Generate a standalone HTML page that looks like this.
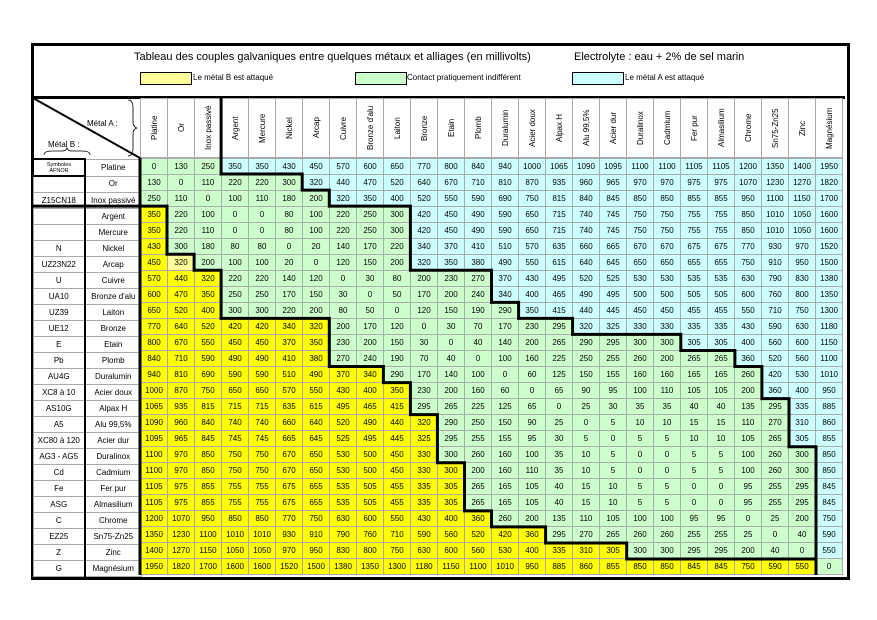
<!DOCTYPE html>
<html><head><meta charset="utf-8">
<style>
body{margin:0;background:#fff;width:877px;height:620px;position:relative;overflow:hidden;font-family:"Liberation Sans",Arial,sans-serif;color:#000}
.frame{position:absolute;left:31px;top:43px;width:813px;height:531px;border:3px solid #000}
.hsep{position:absolute;left:32px;top:96px;width:813px;height:3px;background:#000}
.t{position:absolute;font-size:11px;white-space:nowrap}
.lg{position:absolute;font-size:8px;white-space:nowrap}
.box{position:absolute;width:50px;height:11px;border:1px solid #000}
table{border-collapse:collapse;table-layout:fixed;position:absolute}
#data{left:140px;top:158px;width:703px;height:417px}
#data td{border:1px solid #aaa;background:#ccffcc;font-size:8px;text-align:center;padding:0;height:15px;line-height:14px;overflow:hidden}
#hdr{left:140px;top:98px;width:703px;height:60px}
#hdr td{border:1px solid #aaa;padding:0;height:58px;background:#fff}
#hdr td div{writing-mode:vertical-rl;transform:rotate(180deg);font-size:8px;margin:auto;white-space:nowrap;height:58px;text-align:center}
#lab{left:32px;top:158px;width:108px;height:417px}
#lab td{border:1px solid #aaa;font-size:8px;text-align:center;padding:0;height:15px;line-height:14px;background:#fff;white-space:nowrap;overflow:hidden}
#lab td:first-child{border-right:2px solid #000}
#data .r0 td:nth-child(n+4),#data .r1 td:nth-child(n+7),#data .r2 td:nth-child(n+8),#data .r3 td:nth-child(n+11),#data .r4 td:nth-child(n+11),#data .r5 td:nth-child(n+11),#data .r6 td:nth-child(n+11),#data .r7 td:nth-child(n+14),#data .r8 td:nth-child(n+14),#data .r9 td:nth-child(n+15),#data .r10 td:nth-child(n+17),#data .r11 td:nth-child(n+21),#data .r12 td:nth-child(n+23),#data .r13 td:nth-child(n+24),#data .r14 td:nth-child(n+24),#data .r15 td:nth-child(n+25),#data .r16 td:nth-child(n+25),#data .r17 td:nth-child(n+25),#data .r18 td:nth-child(n+26),#data .r19 td:nth-child(n+26),#data .r20 td:nth-child(n+26),#data .r21 td:nth-child(n+26),#data .r22 td:nth-child(n+26),#data .r23 td:nth-child(n+26),#data .r24 td:nth-child(n+26){background:#ccffff}
#data .r3 td:nth-child(-n+1),#data .r4 td:nth-child(-n+1),#data .r5 td:nth-child(-n+1),#data .r6 td:nth-child(-n+2),#data .r7 td:nth-child(-n+3),#data .r8 td:nth-child(-n+3),#data .r9 td:nth-child(-n+3),#data .r10 td:nth-child(-n+7),#data .r11 td:nth-child(-n+7),#data .r12 td:nth-child(-n+7),#data .r13 td:nth-child(-n+9),#data .r14 td:nth-child(-n+10),#data .r15 td:nth-child(-n+10),#data .r16 td:nth-child(-n+11),#data .r17 td:nth-child(-n+11),#data .r18 td:nth-child(-n+11),#data .r19 td:nth-child(-n+12),#data .r20 td:nth-child(-n+12),#data .r21 td:nth-child(-n+12),#data .r22 td:nth-child(-n+13),#data .r23 td:nth-child(-n+15),#data .r24 td:nth-child(-n+18),#data .r25 td:nth-child(-n+25){background:#ffff00}
#data .r6 td:nth-child(2){background:#ffff99}
</style></head><body>
<div class="frame"></div>
<div class="hsep"></div>
<div class="t" style="left:134px;top:51px">Tableau des couples galvaniques entre quelques métaux et alliages (en millivolts)</div>
<div class="t" style="left:574px;top:51px">Electrolyte : eau + 2% de sel marin</div>
<div class="box" style="left:140px;top:72px;background:#ffff99"></div>
<div class="lg" style="left:193px;top:73px">Le métal B est attaqué</div>
<div class="box" style="left:355px;top:72px;background:#ccffcc"></div>
<div class="lg" style="left:407px;top:73px">Contact pratiquement indifférent</div>
<div class="box" style="left:572px;top:72px;background:#ccffff"></div>
<div class="lg" style="left:625px;top:73px">Le métal A est attaqué</div>

<div class="lg" style="left:87px;top:119px;font-size:8px">Métal A :</div>
<div class="lg" style="left:48px;top:140px;font-size:8px">Métal B :</div>

<table id="hdr"><tr>
<td><div>Platine</div></td><td><div>Or</div></td><td><div>Inox passivé</div></td><td><div>Argent</div></td><td><div>Mercure</div></td><td><div>Nickel</div></td><td><div>Arcap</div></td><td><div>Cuivre</div></td><td><div>Bronze d'alu</div></td><td><div>Laiton</div></td><td><div>Bronze</div></td><td><div>Etain</div></td><td><div>Plomb</div></td><td><div>Duralumin</div></td><td><div>Acier doux</div></td><td><div>Alpax H</div></td><td><div>Alu 99,5%</div></td><td><div>Acier dur</div></td><td><div>Duralinox</div></td><td><div>Cadmium</div></td><td><div>Fer pur</div></td><td><div>Almasilium</div></td><td><div>Chrome</div></td><td><div>Sn75-Zn25</div></td><td><div>Zinc</div></td><td><div>Magnésium</div></td>
</tr></table>

<table id="lab"><colgroup><col style="width:52px"><col style="width:56px"></colgroup>
<tr><td style="font-size:5.5px;line-height:6px;border:2px solid #000">Symboles<br>AFNOR</td><td>Platine</td></tr>
<tr><td></td><td>Or</td></tr>
<tr><td>Z15CN18</td><td>Inox passivé</td></tr>
<tr><td></td><td>Argent</td></tr>
<tr><td></td><td>Mercure</td></tr>
<tr><td>N</td><td>Nickel</td></tr>
<tr><td>UZ23N22</td><td>Arcap</td></tr>
<tr><td>U</td><td>Cuivre</td></tr>
<tr><td>UA10</td><td>Bronze d'alu</td></tr>
<tr><td>UZ39</td><td>Laiton</td></tr>
<tr><td>UE12</td><td>Bronze</td></tr>
<tr><td>E</td><td>Etain</td></tr>
<tr><td>Pb</td><td>Plomb</td></tr>
<tr><td>AU4G</td><td>Duralumin</td></tr>
<tr><td>XC8 à 10</td><td>Acier doux</td></tr>
<tr><td>AS10G</td><td>Alpax H</td></tr>
<tr><td>A5</td><td>Alu 99,5%</td></tr>
<tr><td>XC80 à 120</td><td>Acier dur</td></tr>
<tr><td>AG3 - AG5</td><td>Duralinox</td></tr>
<tr><td>Cd</td><td>Cadmium</td></tr>
<tr><td>Fe</td><td>Fer pur</td></tr>
<tr><td>ASG</td><td>Almasilium</td></tr>
<tr><td>C</td><td>Chrome</td></tr>
<tr><td>EZ25</td><td>Sn75-Zn25</td></tr>
<tr><td>Z</td><td>Zinc</td></tr>
<tr><td>G</td><td>Magnésium</td></tr>
</table>

<table id="data">
<tr class="r0"><td>0</td><td>130</td><td>250</td><td>350</td><td>350</td><td>430</td><td>450</td><td>570</td><td>600</td><td>650</td><td>770</td><td>800</td><td>840</td><td>940</td><td>1000</td><td>1065</td><td>1090</td><td>1095</td><td>1100</td><td>1100</td><td>1105</td><td>1105</td><td>1200</td><td>1350</td><td>1400</td><td>1950</td></tr>
<tr class="r1"><td>130</td><td>0</td><td>110</td><td>220</td><td>220</td><td>300</td><td>320</td><td>440</td><td>470</td><td>520</td><td>640</td><td>670</td><td>710</td><td>810</td><td>870</td><td>935</td><td>960</td><td>965</td><td>970</td><td>970</td><td>975</td><td>975</td><td>1070</td><td>1230</td><td>1270</td><td>1820</td></tr>
<tr class="r2"><td>250</td><td>110</td><td>0</td><td>100</td><td>110</td><td>180</td><td>200</td><td>320</td><td>350</td><td>400</td><td>520</td><td>550</td><td>590</td><td>690</td><td>750</td><td>815</td><td>840</td><td>845</td><td>850</td><td>850</td><td>855</td><td>855</td><td>950</td><td>1100</td><td>1150</td><td>1700</td></tr>
<tr class="r3"><td>350</td><td>220</td><td>100</td><td>0</td><td>0</td><td>80</td><td>100</td><td>220</td><td>250</td><td>300</td><td>420</td><td>450</td><td>490</td><td>590</td><td>650</td><td>715</td><td>740</td><td>745</td><td>750</td><td>750</td><td>755</td><td>755</td><td>850</td><td>1010</td><td>1050</td><td>1600</td></tr>
<tr class="r4"><td>350</td><td>220</td><td>110</td><td>0</td><td>0</td><td>80</td><td>100</td><td>220</td><td>250</td><td>300</td><td>420</td><td>450</td><td>490</td><td>590</td><td>650</td><td>715</td><td>740</td><td>745</td><td>750</td><td>750</td><td>755</td><td>755</td><td>850</td><td>1010</td><td>1050</td><td>1600</td></tr>
<tr class="r5"><td>430</td><td>300</td><td>180</td><td>80</td><td>80</td><td>0</td><td>20</td><td>140</td><td>170</td><td>220</td><td>340</td><td>370</td><td>410</td><td>510</td><td>570</td><td>635</td><td>660</td><td>665</td><td>670</td><td>670</td><td>675</td><td>675</td><td>770</td><td>930</td><td>970</td><td>1520</td></tr>
<tr class="r6"><td>450</td><td>320</td><td>200</td><td>100</td><td>100</td><td>20</td><td>0</td><td>120</td><td>150</td><td>200</td><td>320</td><td>350</td><td>380</td><td>490</td><td>550</td><td>615</td><td>640</td><td>645</td><td>650</td><td>650</td><td>655</td><td>655</td><td>750</td><td>910</td><td>950</td><td>1500</td></tr>
<tr class="r7"><td>570</td><td>440</td><td>320</td><td>220</td><td>220</td><td>140</td><td>120</td><td>0</td><td>30</td><td>80</td><td>200</td><td>230</td><td>270</td><td>370</td><td>430</td><td>495</td><td>520</td><td>525</td><td>530</td><td>530</td><td>535</td><td>535</td><td>630</td><td>790</td><td>830</td><td>1380</td></tr>
<tr class="r8"><td>600</td><td>470</td><td>350</td><td>250</td><td>250</td><td>170</td><td>150</td><td>30</td><td>0</td><td>50</td><td>170</td><td>200</td><td>240</td><td>340</td><td>400</td><td>465</td><td>490</td><td>495</td><td>500</td><td>500</td><td>505</td><td>505</td><td>600</td><td>760</td><td>800</td><td>1350</td></tr>
<tr class="r9"><td>650</td><td>520</td><td>400</td><td>300</td><td>300</td><td>220</td><td>200</td><td>80</td><td>50</td><td>0</td><td>120</td><td>150</td><td>190</td><td>290</td><td>350</td><td>415</td><td>440</td><td>445</td><td>450</td><td>450</td><td>455</td><td>455</td><td>550</td><td>710</td><td>750</td><td>1300</td></tr>
<tr class="r10"><td>770</td><td>640</td><td>520</td><td>420</td><td>420</td><td>340</td><td>320</td><td>200</td><td>170</td><td>120</td><td>0</td><td>30</td><td>70</td><td>170</td><td>230</td><td>295</td><td>320</td><td>325</td><td>330</td><td>330</td><td>335</td><td>335</td><td>430</td><td>590</td><td>630</td><td>1180</td></tr>
<tr class="r11"><td>800</td><td>670</td><td>550</td><td>450</td><td>450</td><td>370</td><td>350</td><td>230</td><td>200</td><td>150</td><td>30</td><td>0</td><td>40</td><td>140</td><td>200</td><td>265</td><td>290</td><td>295</td><td>300</td><td>300</td><td>305</td><td>305</td><td>400</td><td>560</td><td>600</td><td>1150</td></tr>
<tr class="r12"><td>840</td><td>710</td><td>590</td><td>490</td><td>490</td><td>410</td><td>380</td><td>270</td><td>240</td><td>190</td><td>70</td><td>40</td><td>0</td><td>100</td><td>160</td><td>225</td><td>250</td><td>255</td><td>260</td><td>200</td><td>265</td><td>265</td><td>360</td><td>520</td><td>560</td><td>1100</td></tr>
<tr class="r13"><td>940</td><td>810</td><td>690</td><td>590</td><td>590</td><td>510</td><td>490</td><td>370</td><td>340</td><td>290</td><td>170</td><td>140</td><td>100</td><td>0</td><td>60</td><td>125</td><td>150</td><td>155</td><td>160</td><td>160</td><td>165</td><td>165</td><td>260</td><td>420</td><td>530</td><td>1010</td></tr>
<tr class="r14"><td>1000</td><td>870</td><td>750</td><td>650</td><td>650</td><td>570</td><td>550</td><td>430</td><td>400</td><td>350</td><td>230</td><td>200</td><td>160</td><td>60</td><td>0</td><td>65</td><td>90</td><td>95</td><td>100</td><td>110</td><td>105</td><td>105</td><td>200</td><td>360</td><td>400</td><td>950</td></tr>
<tr class="r15"><td>1065</td><td>935</td><td>815</td><td>715</td><td>715</td><td>635</td><td>615</td><td>495</td><td>465</td><td>415</td><td>295</td><td>265</td><td>225</td><td>125</td><td>65</td><td>0</td><td>25</td><td>30</td><td>35</td><td>35</td><td>40</td><td>40</td><td>135</td><td>295</td><td>335</td><td>885</td></tr>
<tr class="r16"><td>1090</td><td>960</td><td>840</td><td>740</td><td>740</td><td>660</td><td>640</td><td>520</td><td>490</td><td>440</td><td>320</td><td>290</td><td>250</td><td>150</td><td>90</td><td>25</td><td>0</td><td>5</td><td>10</td><td>10</td><td>15</td><td>15</td><td>110</td><td>270</td><td>310</td><td>860</td></tr>
<tr class="r17"><td>1095</td><td>965</td><td>845</td><td>745</td><td>745</td><td>665</td><td>645</td><td>525</td><td>495</td><td>445</td><td>325</td><td>295</td><td>255</td><td>155</td><td>95</td><td>30</td><td>5</td><td>0</td><td>5</td><td>5</td><td>10</td><td>10</td><td>105</td><td>265</td><td>305</td><td>855</td></tr>
<tr class="r18"><td>1100</td><td>970</td><td>850</td><td>750</td><td>750</td><td>670</td><td>650</td><td>530</td><td>500</td><td>450</td><td>330</td><td>300</td><td>260</td><td>160</td><td>100</td><td>35</td><td>10</td><td>5</td><td>0</td><td>0</td><td>5</td><td>5</td><td>100</td><td>260</td><td>300</td><td>850</td></tr>
<tr class="r19"><td>1100</td><td>970</td><td>850</td><td>750</td><td>750</td><td>670</td><td>650</td><td>530</td><td>500</td><td>450</td><td>330</td><td>300</td><td>200</td><td>160</td><td>110</td><td>35</td><td>10</td><td>5</td><td>0</td><td>0</td><td>5</td><td>5</td><td>100</td><td>260</td><td>300</td><td>850</td></tr>
<tr class="r20"><td>1105</td><td>975</td><td>855</td><td>755</td><td>755</td><td>675</td><td>655</td><td>535</td><td>505</td><td>455</td><td>335</td><td>305</td><td>265</td><td>165</td><td>105</td><td>40</td><td>15</td><td>10</td><td>5</td><td>5</td><td>0</td><td>0</td><td>95</td><td>255</td><td>295</td><td>845</td></tr>
<tr class="r21"><td>1105</td><td>975</td><td>855</td><td>755</td><td>755</td><td>675</td><td>655</td><td>535</td><td>505</td><td>455</td><td>335</td><td>305</td><td>265</td><td>165</td><td>105</td><td>40</td><td>15</td><td>10</td><td>5</td><td>5</td><td>0</td><td>0</td><td>95</td><td>255</td><td>295</td><td>845</td></tr>
<tr class="r22"><td>1200</td><td>1070</td><td>950</td><td>850</td><td>850</td><td>770</td><td>750</td><td>630</td><td>600</td><td>550</td><td>430</td><td>400</td><td>360</td><td>260</td><td>200</td><td>135</td><td>110</td><td>105</td><td>100</td><td>100</td><td>95</td><td>95</td><td>0</td><td>25</td><td>200</td><td>750</td></tr>
<tr class="r23"><td>1350</td><td>1230</td><td>1100</td><td>1010</td><td>1010</td><td>930</td><td>910</td><td>790</td><td>760</td><td>710</td><td>590</td><td>560</td><td>520</td><td>420</td><td>360</td><td>295</td><td>270</td><td>265</td><td>260</td><td>260</td><td>255</td><td>255</td><td>25</td><td>0</td><td>40</td><td>590</td></tr>
<tr class="r24"><td>1400</td><td>1270</td><td>1150</td><td>1050</td><td>1050</td><td>970</td><td>950</td><td>830</td><td>800</td><td>750</td><td>630</td><td>600</td><td>560</td><td>530</td><td>400</td><td>335</td><td>310</td><td>305</td><td>300</td><td>300</td><td>295</td><td>295</td><td>200</td><td>40</td><td>0</td><td>550</td></tr>
<tr class="r25"><td>1950</td><td>1820</td><td>1700</td><td>1600</td><td>1600</td><td>1520</td><td>1500</td><td>1380</td><td>1350</td><td>1300</td><td>1180</td><td>1150</td><td>1100</td><td>1010</td><td>950</td><td>885</td><td>860</td><td>855</td><td>850</td><td>850</td><td>845</td><td>845</td><td>750</td><td>590</td><td>550</td><td>0</td></tr>
</table>

<svg width="877" height="620" style="position:absolute;left:0;top:0" fill="none" stroke="#000">
<line x1="33" y1="98" x2="140" y2="158" stroke-width="2"/>
<path d="M128,100 q5,0 5,8 v14 q0,5 4,6 q-4,1 -4,6 v14 q0,8 -5,8" stroke-width="0.8"/>
<path d="M44,155 q0,-4 8,-4 h10 q4,0 5,-3 q1,3 5,3 h10 q8,0 8,4" stroke-width="0.8"/>
<line x1="140" y1="158" x2="140" y2="575" stroke-width="3"/>
<path d="M32,206.1 H167 V254.2 H194.1 V270.3 H221.1 V318.4 H329.3 V366.5 H383.4 V382.6 H410.4 V414.6 H437.4 V462.8 H464.5 V510.9 H491.5 V526.9 H545.6 V543 H626.7 V559 H816 V575" stroke-width="3"/>
<path d="M221.1,98 V174 H302.2 V190.1 H329.3 V206.1 H410.4 V270.3 H491.5 V302.4 H518.6 V318.4 H572.6 V334.4 H680.8 V350.5 H734.9 V366.5 H761.9 V398.6 H789 V446.7 H816 V575" stroke-width="3"/>
</svg>
</body></html>
